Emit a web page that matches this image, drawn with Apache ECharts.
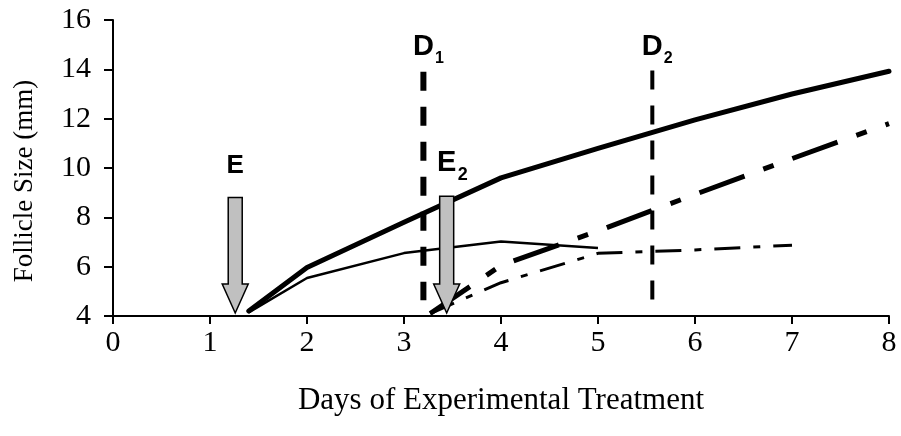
<!DOCTYPE html>
<html><head><meta charset="utf-8">
<script src="https://cdn.jsdelivr.net/npm/echarts@6/dist/echarts.min.js"></script>
<style>html,body{margin:0;padding:0;background:#fff}#c{width:901px;height:436px}</style>
</head><body><div id="c"></div>
<script>
// ---- data ----
const xTicks = [0, 1, 2, 3, 4, 5, 6, 7, 8];
const yTicks = [4, 6, 8, 10, 12, 14, 16];
const thickSolidX = [1.4, 2, 3, 4, 5, 6, 7, 8];
const thickSolidY = [4.2, 5.97, 7.8, 9.6, 10.8, 11.95, 13.0, 13.92];
const thinSolidX = [1.4, 2, 3, 4, 5];
const thinSolidY = [4.15, 5.54, 6.55, 7.02, 6.76];
const thickDashDotX = [3.27, 4, 5, 6, 7, 8];
const thickDashDotY = [4.1, 6.05, 7.45, 8.93, 10.38, 11.8];
const thinDashDotX = [3.27, 4, 5, 6, 7];
const thinDashDotY = [4.1, 5.35, 6.54, 6.68, 6.87];
const markerNames = ['D', 'D'];
const markerSubs = ['1', '2'];
const markerX = [3.2, 5.56];
const markerTop = [13.9, 13.95];
const markerBottom = [4.64, 4.64];
const markerLabelY = [14.9, 14.9];
const arrowNames = ['E', 'E'];
const arrowSubs = ['', '2'];
const arrowX = [1.26, 3.44];
const arrowTop = [8.8, 8.85];
const arrowTip = [4.12, 4.12];
const arrowLabelY = [10.07, 10.19];

const zip = (xs, ys) => xs.map((x, i) => [x, ys[i]]);
const serif = '"Liberation Serif", "Times New Roman", serif';
const sans = '"Liberation Sans", Arial, sans-serif';

function vline(i, width) {
  return {
    type: 'line', data: [[markerX[i], markerTop[i]], [markerX[i], markerBottom[i]]],
    showSymbol: false, silent: true, z: 3,
    lineStyle: { color: '#000', width: width, type: [19, 16], cap: 'butt' }
  };
}

const chart = echarts.init(document.getElementById('c'), null, { renderer: 'canvas' });
chart.setOption({
  animation: false,
  backgroundColor: '#fff',
  grid: { left: 113, right: 12, top: 20, bottom: 120, containLabel: false, outerBoundsMode: 'none' },
  xAxis: {
    type: 'value', min: xTicks[0], max: xTicks[xTicks.length - 1], interval: 1,
    name: 'Days of Experimental Treatment', nameLocation: 'middle', nameGap: 69,
    nameTextStyle: { fontFamily: serif, fontSize: 31, color: '#000' },
    axisLine: { show: true, lineStyle: { color: '#000', width: 2 } },
    axisTick: { show: true, inside: false, length: 8, lineStyle: { color: '#000', width: 2 } },
    axisLabel: { fontFamily: serif, fontSize: 30, color: '#000', margin: 12 },
    splitLine: { show: false }
  },
  yAxis: {
    type: 'value', min: yTicks[0], max: yTicks[yTicks.length - 1], interval: 2,
    name: 'Follicle Size (mm)', nameLocation: 'middle', nameGap: 75,
    nameTextStyle: { fontFamily: serif, fontSize: 27, color: '#000', padding: [0, 26, 0, 0] },
    axisLine: { show: true, lineStyle: { color: '#000', width: 2 } },
    axisTick: { show: true, inside: false, length: 9, lineStyle: { color: '#000', width: 2 } },
    axisLabel: { fontFamily: serif, fontSize: 30, color: '#000', margin: 22 },
    splitLine: { show: false }
  },
  series: [
    vline(0, 6),
    vline(1, 4),
    { type: 'line', data: zip(thinSolidX, thinSolidY), showSymbol: false, z: 4,
      lineStyle: { color: '#000', width: 2.5 } },
    { type: 'line', data: zip(thinDashDotX, thinDashDotY), showSymbol: false, z: 4,
      lineStyle: { color: '#000', width: 3, type: [26, 13, 7, 13] } },
    { type: 'line', data: zip(thickDashDotX, thickDashDotY), showSymbol: false, z: 4,
      lineStyle: { color: '#000', width: 5, type: [48, 20, 11, 20] } },
    { type: 'line', data: zip(thickSolidX, thickSolidY), showSymbol: false, z: 4,
      lineStyle: { color: '#000', width: 5, cap: 'round', join: 'round' } },
    // arrows
    { type: 'custom', z: 6, data: arrowX.map((x, i) => [x, arrowTop[i], arrowTip[i]]),
      renderItem: function (params, api) {
        const t = api.coord([api.value(0), api.value(1)]);
        const b = api.coord([api.value(0), api.value(2)]);
        const x = b[0], sw = 7, hw = 13, hh = 29;
        return { type: 'polygon',
          shape: { points: [[x - sw, t[1]], [x + sw, t[1]], [x + sw, b[1] - hh], [x + hw, b[1] - hh],
                            [x, b[1]], [x - hw, b[1] - hh], [x - sw, b[1] - hh]] },
          style: { fill: '#c0c0c0', stroke: '#000', lineWidth: 1.5 } };
      } },
    // labels for arrows and markers
    { type: 'custom', z: 7, silent: true,
      data: arrowX.map((x, i) => [x, arrowLabelY[i]]).concat(markerX.map((x, i) => [x, markerLabelY[i]])),
      renderItem: function (params, api) {
        const i = params.dataIndex;
        const isArrow = i < arrowX.length;
        const j = isArrow ? i : i - arrowX.length;
        const main = isArrow ? arrowNames[j] : markerNames[j];
        const sub = isArrow ? arrowSubs[j] : markerSubs[j];
        const p = api.coord([api.value(0), api.value(1)]);
        const mainSize = isArrow && !sub ? 26 : 29;
        const subSize = isArrow ? 18 : 16;
        const children = [{ type: 'text', x: p[0], y: p[1],
          style: { text: main, font: 'bold ' + mainSize + 'px ' + sans, fill: '#000',
                   align: 'center', verticalAlign: 'middle' } }];
        if (sub) children.push({ type: 'text', x: p[0] + 16, y: p[1] + 11.5,
          style: { text: sub, font: 'bold ' + subSize + 'px ' + sans, fill: '#000',
                   align: 'center', verticalAlign: 'middle' } });
        return { type: 'group', children: children };
      } }
  ]
});
</script>
</body></html>
